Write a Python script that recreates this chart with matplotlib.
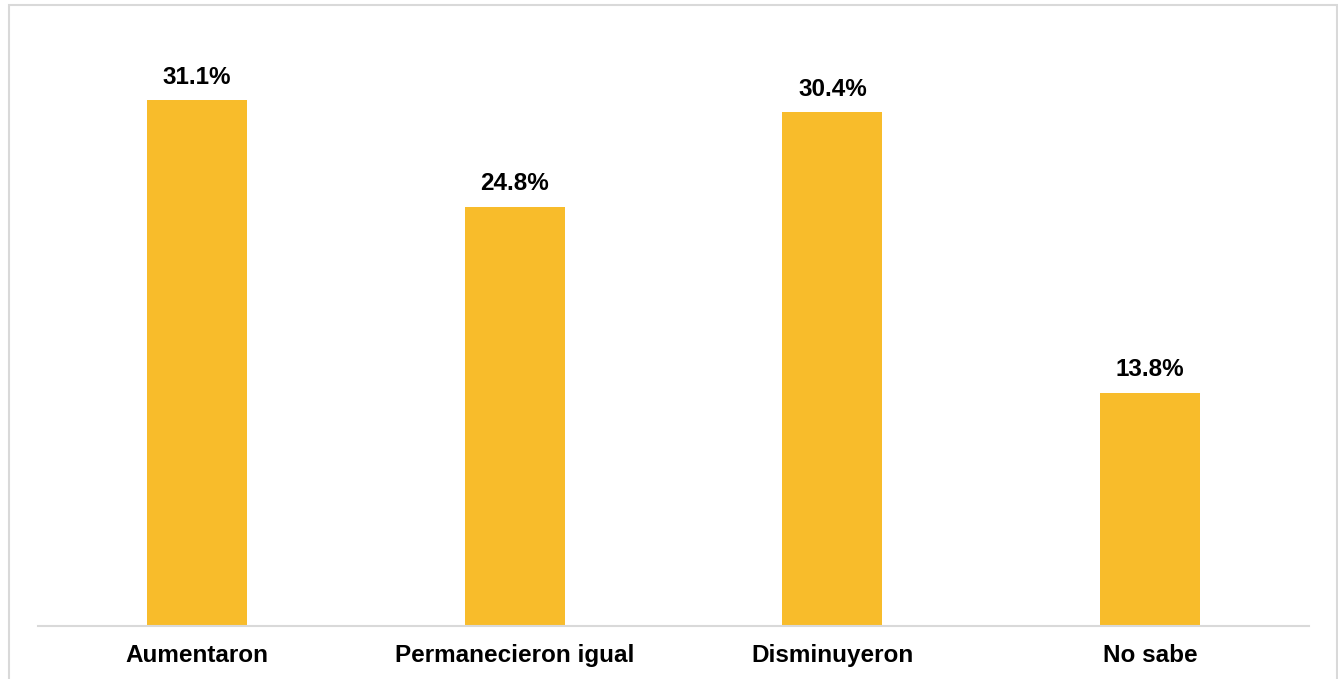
import matplotlib.pyplot as plt
import matplotlib.patches as patches
import numpy as np

categories = ['Aumentaron', 'Permanecieron igual', 'Disminuyeron', 'No sabe']
values = [31.1, 24.8, 30.4, 13.8]

plt.rcParams['font.family'] = ['Liberation Sans', 'DejaVu Sans']

W, H = 1338, 679
fig = plt.figure(figsize=(W / 100, H / 100), dpi=100)

# outer frame of the chart area (bottom edge runs off the image)
frame = patches.Rectangle((9 / W, -0.05), (1337 - 9) / W, 1.05 - 5 / H,
                          transform=fig.transFigure, fill=False,
                          edgecolor='#d9d9d9', linewidth=1.5)
fig.patches.append(frame)

# plot area in pixels: x 38..1309, baseline at y=626
left, right, bottom, top = 38, 1309, 626, 34
ax = fig.add_axes([left / W, 1 - bottom / H, (right - left) / W, (bottom - top) / H])

x = np.arange(len(categories))
ax.bar(x, values, width=0.315, color='#f8bc2b', zorder=2)
for xi, v in zip(x, values):
    ax.annotate(f'{v:.1f}%', (xi, v), xytext=(0, 8), textcoords='offset points',
                ha='center', va='bottom', fontsize=17.5, fontweight='bold')

ax.set_xlim(-0.5, len(categories) - 0.5)
ax.set_ylim(0, 35)
ax.set_xticks(x)
ax.set_xticklabels(categories, fontsize=17.5, fontweight='bold')
ax.tick_params(axis='x', length=0, pad=13)
ax.set_yticks([])
for s in ['top', 'right', 'left']:
    ax.spines[s].set_visible(False)
ax.spines['bottom'].set_color('#d9d9d9')
ax.spines['bottom'].set_linewidth(1.5)

fig.savefig('out.png', dpi=100)
